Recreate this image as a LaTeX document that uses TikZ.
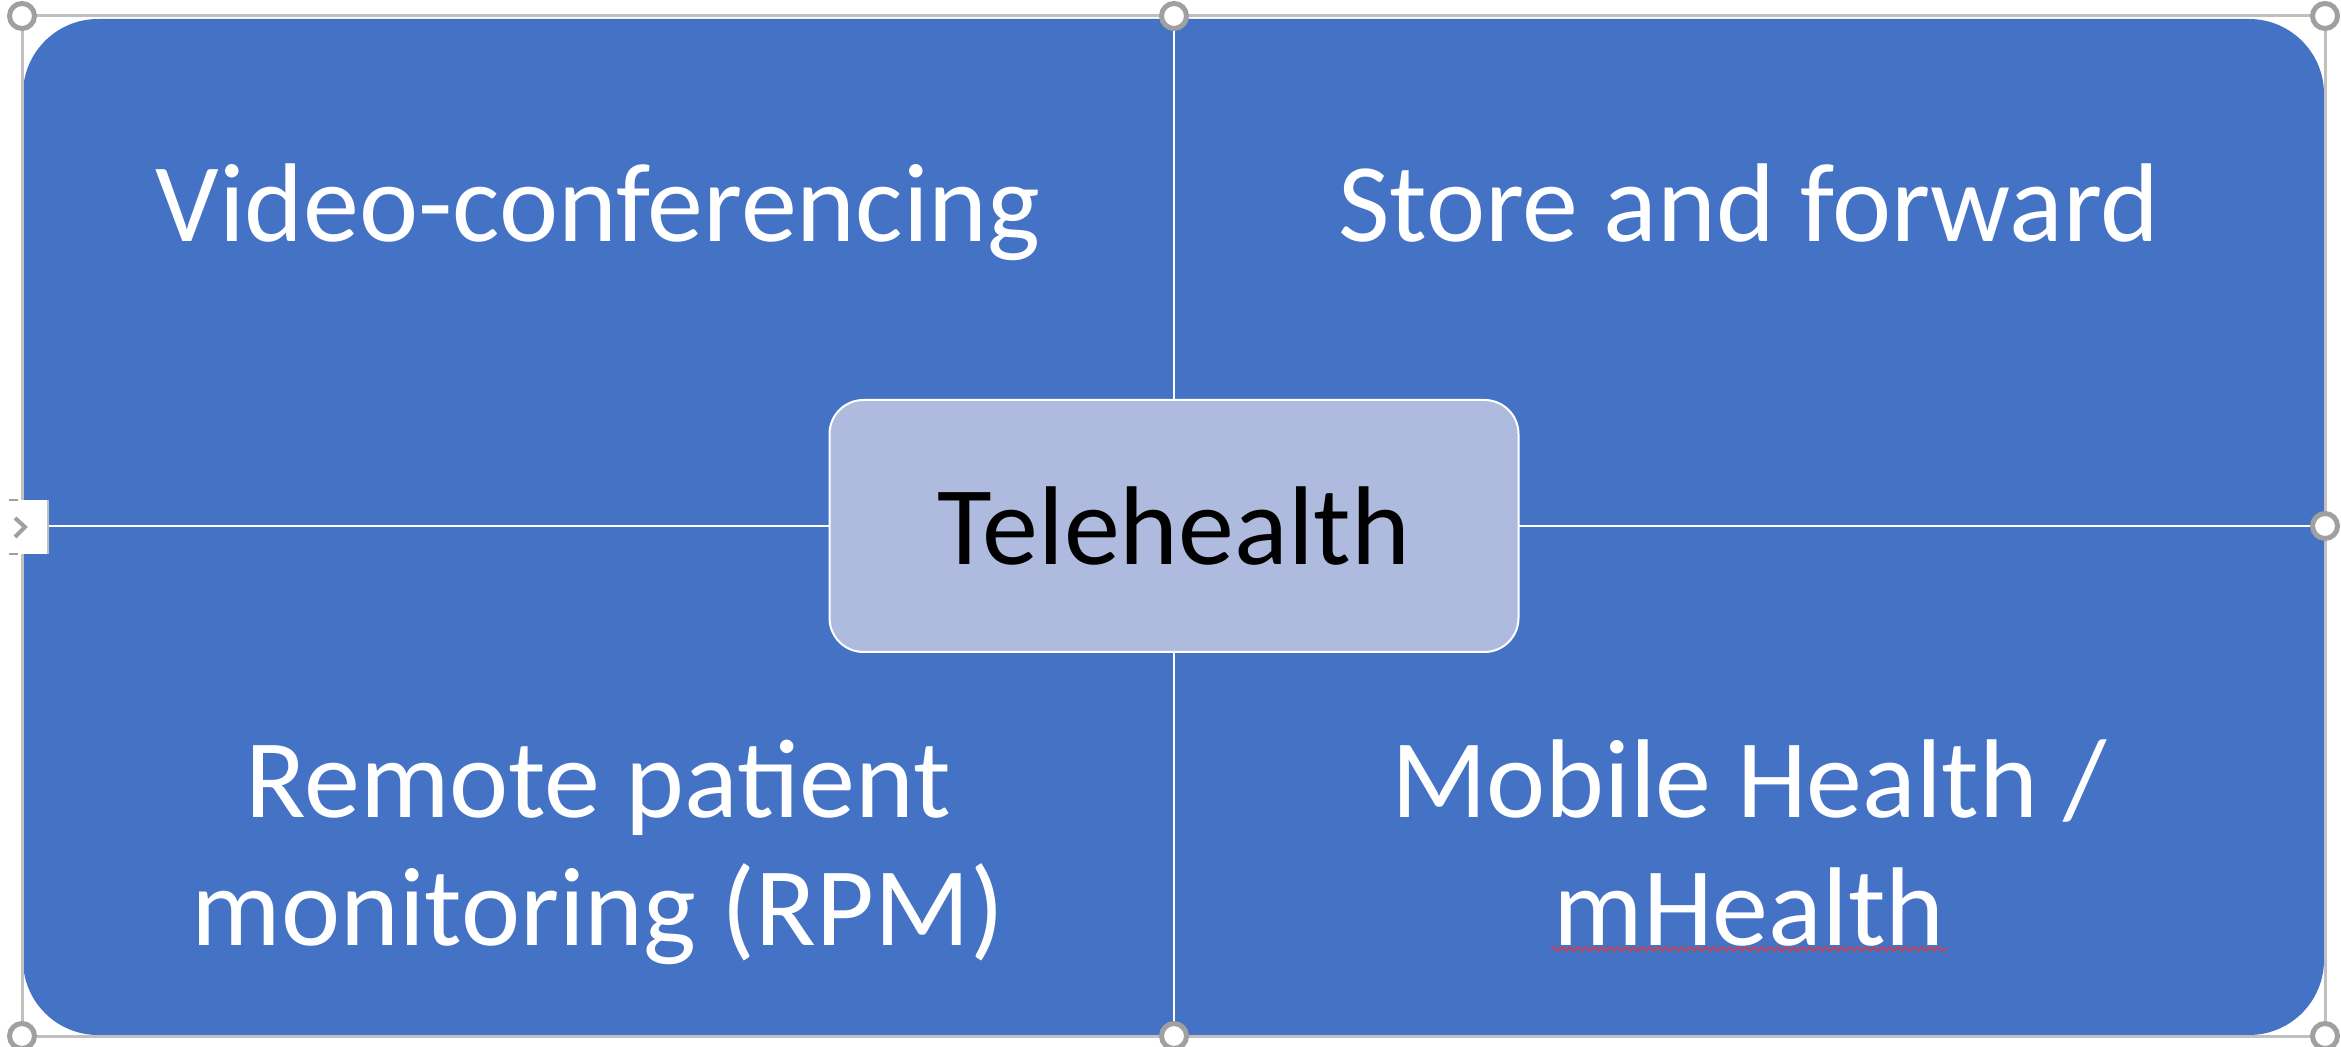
\documentclass[tikz,border=0pt]{standalone}
\usepackage{fontspec}
\setmainfont{Carlito}
\usetikzlibrary{decorations.pathmorphing}
\definecolor{accblue}{HTML}{4472C4}
\definecolor{centfill}{HTML}{AFBBDE}
\definecolor{handlegray}{HTML}{A0A0A0}
\definecolor{framegray}{HTML}{C0C0C0}
\definecolor{spellred}{HTML}{D0404A}
\begin{document}
\begin{tikzpicture}[x=0.5pt,y=-0.5pt,
  quadtext/.style={text=white,font=\fontsize{56}{64}\selectfont,align=center,anchor=base,inner sep=0pt},
  centerbox/.style={rectangle,rounded corners=17pt,fill=centfill,draw=white,line width=1pt,
     minimum width=344.5pt,minimum height=126pt,font=\fontsize{56}{64}\selectfont,text=black},
  handle/.style={circle,draw=handlegray,line width=2.5pt,fill=white,minimum size=12.5pt,inner sep=0pt},
  divider/.style={white,line width=1pt}]
\useasboundingbox[fill=white] (0,0) rectangle (2341,1047);
% main matrix shape
\fill[accblue,rounded corners=37.5pt] (23,19) rectangle (2324,1035);
\coordinate (vt) at (1174,19);
\coordinate (vb) at (1174,1035);
\coordinate (hl) at (23,526);
\coordinate (hr) at (2324,526);
\draw[divider] (vt) -- (vb);
\draw[divider] (hl) -- (hr);
% center
\node[centerbox] (tele) at (1174,526) {Telehealth};
% quadrant texts
\node[quadtext] (vc) at (598,242) {Video-conferencing};
\node[quadtext] (sf) at (1749,242) {Store and forward};
\node[quadtext] (rpm) at (598,945) {Remote patient\\monitoring (RPM)};
\node[quadtext] (mh) at (1749,945) {Mobile Health /\\mHealth};
\coordinate (ul1) at (1551,949);
\coordinate (ul2) at (1947,949);
\draw[spellred,line width=0.8pt,decorate,decoration={snake,amplitude=1pt,segment length=4pt}] (ul1) -- (ul2);
% selection frame
\draw[framegray,line width=1.5pt] (22,16) rectangle (2325,1036);
% text pane button
\fill[white] (9,500) rectangle (48,554);
\draw[framegray,line width=1pt] (48,500) -- (48,554);
\draw[handlegray,line width=1pt] (9,500) -- (18,500) (9,554) -- (18,554);
\draw[handlegray,line width=2pt] (15,518) -- (25,527) -- (15,537);
% handles
\node[handle] (h1) at (22,16) {};
\node[handle] (h2) at (1174,16) {};
\node[handle] (h3) at (2325,16) {};
\node[handle] (h4) at (2325,526) {};
\node[handle] (h5) at (22,1036) {};
\node[handle] (h6) at (1174,1036) {};
\node[handle] (h7) at (2325,1036) {};
\end{tikzpicture}
\end{document}
